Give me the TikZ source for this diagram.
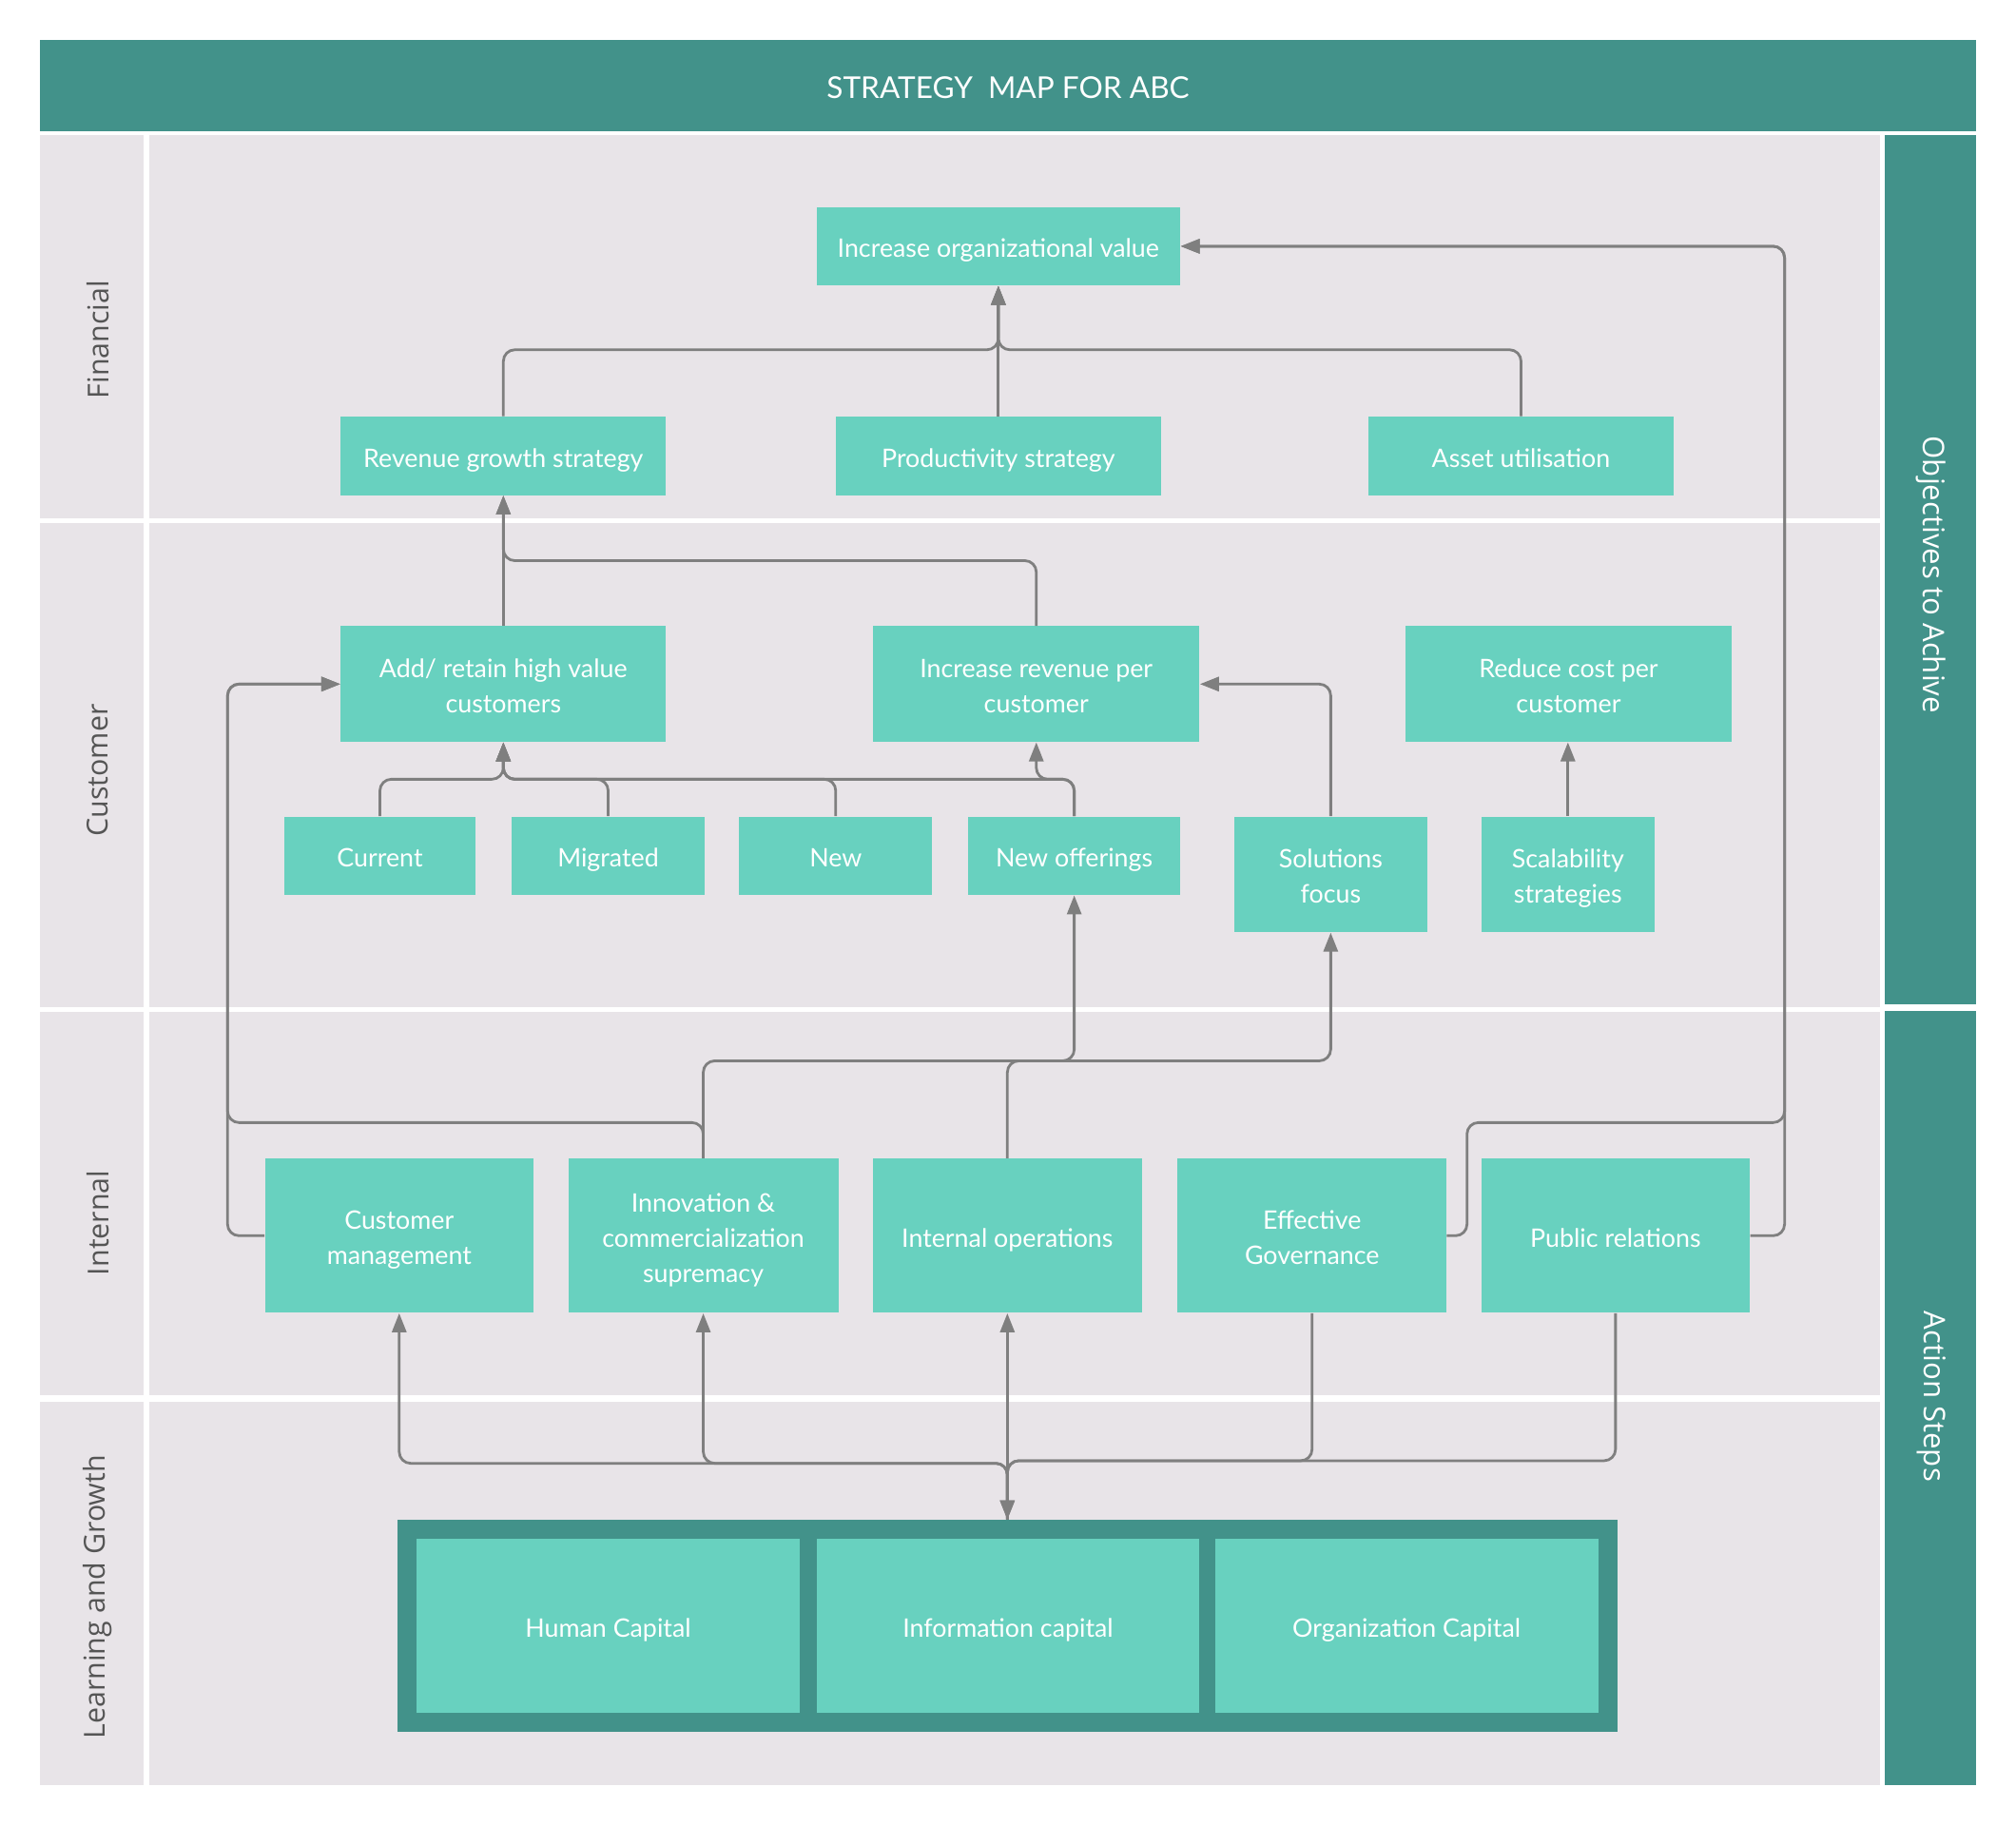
\documentclass[tikz,border=0pt]{standalone}
\usepackage{fontspec}
\setmainfont{Lato}
\newfontfamily\lanefont{Open Sans}
\usetikzlibrary{arrows.meta}
\definecolor{hdr}{HTML}{42928A}
\definecolor{boxc}{HTML}{68D1BF}
\definecolor{lanebg}{HTML}{E8E4E8}
\definecolor{conn}{HTML}{7F7F7F}
\definecolor{lbl}{HTML}{555555}
\tikzset{
  box/.style={fill=boxc, draw=none, inner sep=0pt, text=white, align=center, font=\fontsize{13.4}{18.5}\selectfont},
  one/.style={box, text height=14.5pt, text depth=2.5pt},
  two/.style={box, text height=33pt, text depth=2.5pt},
  three/.style={box, text height=51.5pt, text depth=2.5pt},
  lanelbl/.style={rotate=90, text=lbl, font=\lanefont\fontsize{15.2}{17}\selectfont},
  sidelbl/.style={rotate=-90, text=white, font=\lanefont\fontsize{15.6}{17}\selectfont},
  arr/.style={draw=conn, line width=1.4pt, rounded corners=6pt, -{Triangle[length=10pt,width=7.5pt]}},
}
% \bxn[style]{name}{x1}{y1}{x2}{y2}{text}
\newcommand\bxn[7][one]{\node[#1, minimum width={(#5-#3)*0.676pt}, minimum height={(#6-#4)*0.676pt}] (#2) at ({(#3+#5)/2},{(#4+#6)/2}) {#7};}
\begin{document}
\begin{tikzpicture}[x=0.676pt,y=-0.676pt]
\useasboundingbox (0,0) rectangle (1568,1420);
\fill[white] (0,0) rectangle (1568,1420);
% header
\fill[hdr] (31,31) rectangle (1537,102);
\node[text=white, font=\fontsize{15.8}{18}\selectfont] (title) at (784,68) {STRATEGY\ \ MAP FOR ABC};
% lanes
\fill[lanebg] (31,105) rectangle (112,403);
\fill[lanebg] (116,105) rectangle (1462,403);
\fill[lanebg] (31,407) rectangle (112,783);
\fill[lanebg] (116,407) rectangle (1462,783);
\fill[lanebg] (31,787) rectangle (112,1085);
\fill[lanebg] (116,787) rectangle (1462,1085);
\fill[lanebg] (31,1090) rectangle (112,1388);
\fill[lanebg] (116,1090) rectangle (1462,1388);
\fill[hdr] (1466,105) rectangle (1537,781);
\fill[hdr] (1466,786) rectangle (1537,1388);
\node[lanelbl] (lf) at (76,264) {Financial};
\node[lanelbl] (lc) at (76,599) {Customer};
\node[lanelbl] (li) at (76,951) {Internal};
\node[lanelbl] (ll) at (76,1242) {Learning and Growth};
\node[sidelbl] (so) at (1502,447) {Objectives to Achive};
\node[sidelbl] (sa) at (1502,1086) {Action Steps};
% financial
\bxn{org}{635}{161}{918}{222}{Increase organizational value}
\bxn{rev}{265}{324}{518}{385}{Revenue growth strategy}
\bxn{prod}{650}{324}{903}{385}{Productivity strategy}
\bxn{asset}{1064}{324}{1302}{385}{Asset utilisation}
% customer
\bxn[two]{addr}{265}{487}{518}{577}{Add/ retain high value\\customers}
\bxn[two]{incr}{679}{487}{933}{577}{Increase revenue per\\customer}
\bxn[two]{red}{1093}{487}{1347}{577}{Reduce cost per\\customer}
\bxn{cur}{221}{635}{370}{696}{Current}
\bxn{mig}{398}{635}{548}{696}{Migrated}
\bxn{new}{575}{635}{725}{696}{New}
\bxn{newoff}{753}{635}{918}{696}{New offerings}
\bxn[two]{sol}{960}{635}{1110}{725}{Solutions\\focus}
\bxn[two]{scal}{1152}{635}{1287}{725}{Scalability\\strategies}
% internal
\bxn[two]{cm}{206}{901}{415}{1021}{Customer\\management}
\bxn[three]{inn}{442}{901}{652}{1021}{Innovation \&\\commercialization\\supremacy}
\bxn{iops}{679}{901}{888}{1021}{Internal operations}
\bxn[two]{gov}{916}{901}{1125}{1021}{Effective\\Governance}
\bxn{pr}{1152}{901}{1361}{1021}{Public relations}
% learning
\bxn[fill=hdr, inner sep=0pt]{lg}{309}{1182}{1258}{1347}{}
\bxn{hc}{324}{1197}{622}{1332}{Human Capital}
\bxn{ic}{635}{1197}{933}{1332}{Information capital}
\bxn{oc}{945}{1197}{1243}{1332}{Organization Capital}
% connectors: financial
\draw[arr] (rev.north) |- (776.5,272) -- (org.south);
\draw[arr] (prod.north) -- (org.south);
\draw[arr] (asset.north) |- (776.5,272) -- (org.south);
\draw[arr] (pr.east) -- (1388,961) |- (org.east);
\draw[arr] (gov.east) -- (1141,961) -- (1141,873) -- (1388,873) |- (org.east);
% customer
\draw[arr] (addr.north) -- (rev.south);
\draw[arr] (incr.north) |- (391.5,436) -- (rev.south);
\draw[arr] (cur.north) |- (391.5,606) -- (addr.south);
\draw[arr] (mig.north) |- (391.5,606) -- (addr.south);
\draw[arr] (new.north) |- (391.5,606) -- (addr.south);
\draw[arr] (newoff.north) |- (391.5,606) -- (addr.south);
\draw[arr] (newoff.north) |- (806,606) -- (incr.south);
\draw[arr] (sol.north) |- (incr.east);
\draw[arr] (scal.north) -- (scal.north |- red.south);
% internal
\draw[arr] (cm.west) -- (177,961) |- (addr.west);
\draw[arr] (inn.north) |- (177,873) |- (addr.west);
\draw[arr] (inn.north) |- (835.5,825) -- (newoff.south);
\draw[arr] (iops.north) |- (1035,825) -- (sol.south);
% learning
\draw[arr] (lg.north) |- (310.5,1138) -- (cm.south);
\draw[arr] (lg.north) |- (547,1138) -- (inn.south);
\draw[arr] (lg.north) -- (iops.south);
\draw[arr] (gov.south) |- (783.5,1136) -- (lg.north);
\draw[arr] (pr.south) |- (783.5,1136) -- (lg.north);
\end{tikzpicture}
\end{document}
